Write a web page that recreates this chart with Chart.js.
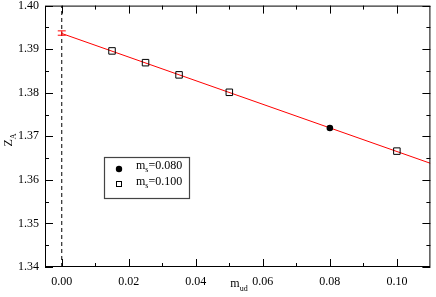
<!DOCTYPE html>
<html><head><meta charset="utf-8">
<script src="https://cdn.jsdelivr.net/npm/chart.js@4"></script>
<style>html,body{margin:0;padding:0;background:#fff;overflow:hidden}</style>
</head><body><canvas id="c" width="436" height="297"></canvas>
<script>
const mudMs080 = [0.08];
const zaMs080 = [1.3719];
const mudMs100 = [0.015, 0.025, 0.035, 0.05, 0.10];
const zaMs100 = [1.3896, 1.3869, 1.3841, 1.3801, 1.3666];
const fitX = [0, 0.11];
const fitY = [1.3936, 1.3638];
const chiralX = 0;
const chiralY = 1.3937;
const chiralErr = 0.0005;
const xTicks = [0, 0.02, 0.04, 0.06, 0.08, 0.10];
const xMinor = [0.01, 0.03, 0.05, 0.07, 0.09];
const yTicks = [1.34, 1.35, 1.36, 1.37, 1.38, 1.39, 1.40];
const yMinor = [1.345, 1.355, 1.365, 1.375, 1.385, 1.395];
const xRange = [-0.005, 0.11];
const yRange = [1.34, 1.40];
const legendLabels = [['m', 's', '=0.080'], ['m', 's', '=0.100']];
const xTitle = ['m', 'ud'];
const yTitle = ['Z', 'A'];

const FONT = '"Liberation Serif", "Times New Roman", serif';
const toPts = (xs, ys) => xs.map((x, i) => ({x, y: ys[i]}));

const framePlugin = {
  id: 'frame',
  afterDatasetsDraw(chart) {
    const {ctx, chartArea: a, scales: {x, y}} = chart;
    ctx.save();
    ctx.strokeStyle = '#ff0000';
    ctx.lineWidth = 1;
    const cx = x.getPixelForValue(chiralX);
    const t = y.getPixelForValue(chiralY + chiralErr), b = y.getPixelForValue(chiralY - chiralErr);
    ctx.beginPath();
    ctx.moveTo(cx, t); ctx.lineTo(cx, b);
    ctx.moveTo(cx - 4, t); ctx.lineTo(cx + 4, t);
    ctx.moveTo(cx - 4, b); ctx.lineTo(cx + 4, b);
    ctx.stroke();
    ctx.strokeStyle = '#000';
    ctx.lineWidth = 1;
    ctx.strokeRect(a.left + 0.5, a.top + 0.5, a.right - a.left - 1, a.bottom - a.top - 1);
    ctx.beginPath();
    const tick = (vals, len) => {
      vals.forEach(v => {
        const px = Math.round(x.getPixelForValue(v)) + 0.5;
        ctx.moveTo(px, a.bottom); ctx.lineTo(px, a.bottom - len);
        ctx.moveTo(px, a.top); ctx.lineTo(px, a.top + len);
      });
    };
    const ytick = (vals, len) => {
      vals.forEach(v => {
        const py = Math.round(y.getPixelForValue(v)) + 0.5;
        ctx.moveTo(a.left, py); ctx.lineTo(a.left + len, py);
        ctx.moveTo(a.right, py); ctx.lineTo(a.right - len, py);
      });
    };
    tick(xTicks, 8); tick(xMinor, 4);
    ytick(yTicks, 8); ytick(yMinor, 4);
    ctx.stroke();

    ctx.strokeStyle = '#444';
    ctx.lineWidth = 1.2;
    ctx.strokeRect(104.5, 157.5, 85, 41);
    ctx.fillStyle = '#000';
    ctx.beginPath(); ctx.arc(119, 169, 3.2, 0, Math.PI * 2); ctx.fill();
    ctx.strokeStyle = '#000'; ctx.lineWidth = 1;
    ctx.strokeRect(116.5, 181.5, 5, 5);
    const sub = (parts, px, py) => {
      ctx.textAlign = 'left'; ctx.textBaseline = 'alphabetic';
      ctx.font = '12px ' + FONT; ctx.fillText(parts[0], px, py);
      px += ctx.measureText(parts[0]).width;
      ctx.font = '8px ' + FONT; ctx.fillText(parts[1], px, py + 3.5);
      px += ctx.measureText(parts[1]).width;
      if (parts[2]) { ctx.font = '12px ' + FONT; ctx.fillText(parts[2], px, py); }
    };
    sub(legendLabels[0], 136, 168.5);
    sub(legendLabels[1], 136, 184.5);

    ctx.font = '12px ' + FONT;
    let w = ctx.measureText(xTitle[0]).width;
    ctx.font = '8px ' + FONT;
    w += ctx.measureText(xTitle[1]).width;
    sub([xTitle[0], xTitle[1]], 239 - w / 2, 287);

    ctx.save();
    ctx.translate(12, 140);
    ctx.rotate(-Math.PI / 2);
    ctx.font = '12px ' + FONT;
    let w2 = ctx.measureText(yTitle[0]).width;
    ctx.font = '8px ' + FONT;
    w2 += ctx.measureText(yTitle[1]).width;
    sub([yTitle[0], yTitle[1]], -w2 / 2, 0);
    ctx.restore();
    ctx.restore();
  }
};

new Chart(document.getElementById('c'), {
  type: 'scatter',
  data: {
    datasets: [
      {label: 'ms=0.080', data: toPts(mudMs080, zaMs080), pointStyle: 'circle', pointRadius: 3.3,
       backgroundColor: '#000', borderColor: '#000', borderWidth: 0, showLine: false, order: 1},
      {label: 'ms=0.100', data: toPts(mudMs100, zaMs100), pointStyle: 'rect', pointRadius: 4.6,
       backgroundColor: 'rgba(0,0,0,0)', borderColor: '#000', borderWidth: 1, showLine: false, order: 2},
      {label: 'fit', data: toPts(fitX, fitY), showLine: true, borderColor: '#ff0000', borderWidth: 1,
       pointRadius: 0, order: 3},
      {label: 'zero', data: toPts([0, 0], yRange), showLine: true, borderColor: '#000', borderWidth: 1,
       borderDash: [4, 3], pointRadius: 0, order: 4}
    ]
  },
  options: {
    responsive: false,
    animation: false,
    devicePixelRatio: 1,
    layout: {padding: {top: 5, right: 2, left: 0, bottom: 0}},
    plugins: {legend: {display: false}, tooltip: {enabled: false}},
    scales: {
      x: {
        type: 'linear', min: xRange[0], max: xRange[1],
        afterBuildTicks: s => { s.ticks = xTicks.map(v => ({value: v})); },
        afterFit: s => { s.height = 30; s.paddingLeft = 0; s.paddingRight = 0; },
        grid: {display: false, drawTicks: false},
        border: {display: false},
        ticks: {callback: v => v.toFixed(2), color: '#000', font: {family: FONT, size: 12}, padding: 8, maxRotation: 0, autoSkip: false}
      },
      y: {
        type: 'linear', min: yRange[0], max: yRange[1],
        afterBuildTicks: s => { s.ticks = yTicks.map(v => ({value: v})); },
        afterFit: s => { s.width = 45; s.paddingTop = 0; s.paddingBottom = 0; },
        grid: {display: false, drawTicks: false},
        border: {display: false},
        ticks: {callback: v => v.toFixed(2), color: '#000', font: {family: FONT, size: 12}, padding: 6, autoSkip: false}
      }
    }
  },
  plugins: [framePlugin]
});
</script>
</body></html>
